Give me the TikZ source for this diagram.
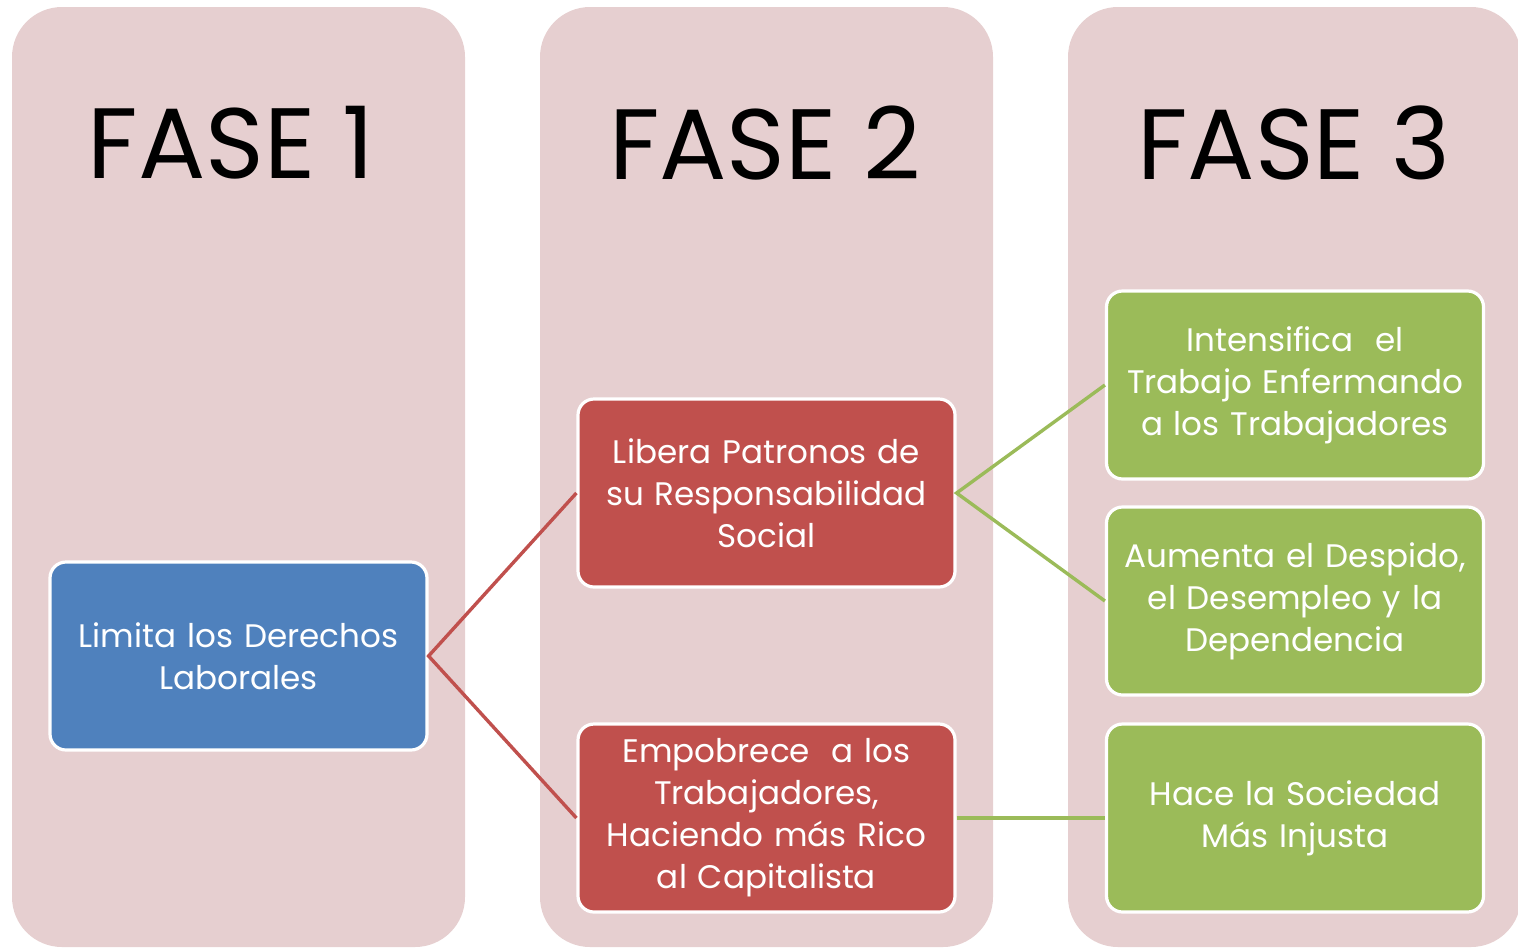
\documentclass[tikz,border=0pt]{standalone}
\usepackage{fontspec}
\setmainfont{Poppins}
\definecolor{panelc}{HTML}{E6CFD0}
\definecolor{bluec}{HTML}{4F81BD}
\definecolor{redc}{HTML}{C0504D}
\definecolor{greenc}{HTML}{9BBB59}
\tikzset{
  panel/.style={fill=panelc, rounded corners=25pt, minimum width=226.5pt, minimum height=470pt, inner sep=0pt},
  title/.style={font=\fontsize{50}{56}\selectfont, text=black},
  box/.style={draw=white, line width=1.6pt, rounded corners=8pt, minimum width=188.5pt, minimum height=94pt,
    text width=182pt, align=center, text=white, font=\fontsize{16.3}{21}\selectfont, inner sep=0pt},
  bluebox/.style={box, fill=bluec},
  redbox/.style={box, fill=redc},
  greenbox/.style={box, fill=greenc},
  redline/.style={draw=redc, line width=1.7pt},
  greenline/.style={draw=greenc, line width=1.7pt}
}
\begin{document}
\begin{tikzpicture}[x=0.5pt,y=-0.5pt]
\useasboundingbox (0,0) rectangle (1518,948);
\node[panel] (p1) at (238.5,477) {};
\node[panel] (p2) at (766.5,477) {};
\node[panel] (p3) at (1294.5,477) {};
\node[title] (t1) at (231,143) {FASE 1};
\node[title] (t2) at (765,143) {FASE 2};
\node[title] (t3) at (1294,143) {FASE 3};
\node[bluebox] (a) at (238.5,656) {Limita los Derechos\\Laborales};
\node[redbox] (b1) at (766.5,493) {Libera Patronos de\\su Responsabilidad\\Social};
\node[redbox] (b2) at (766.5,818) {Empobrece\ \ a los\\Trabajadores,\\Haciendo más Rico\\al Capitalista};
\node[greenbox] (c1) at (1295,385) {Intensifica\ \ el\\Trabajo Enfermando\\a los Trabajadores};
\node[greenbox] (c2) at (1295,601) {Aumenta el Despido,\\el Desempleo y la\\Dependencia};
\node[greenbox] (c3) at (1295,818) {Hace la Sociedad\\Más Injusta};
\draw[redline] (b1.west) -- (a.east) -- (b2.west);
\draw[greenline] (c1.west) -- (b1.east) -- (c2.west);
\draw[greenline] (b2.east) -- (c3.west);
\end{tikzpicture}
\end{document}
